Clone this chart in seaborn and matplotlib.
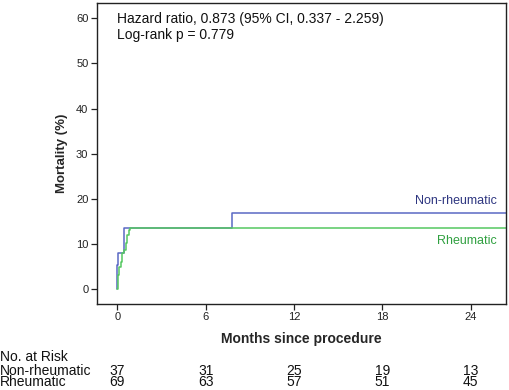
import numpy as np
import pandas as pd
import matplotlib
matplotlib.use("Agg")
import matplotlib.pyplot as plt
import matplotlib.transforms as mtransforms
import seaborn as sns

# Data
nonrheum_t = [0.0, 0.0, 0.07, 0.45, 7.77, 26.4]
nonrheum_y = [0.0, 5.4, 8.1, 13.5, 16.8, 16.8]
rheum_t = [0.0, 0.04, 0.11, 0.23, 0.34, 0.45, 0.57, 0.68, 0.79, 0.88, 26.4]
rheum_y = [0.0, 3.2, 5.0, 6.1, 8.0, 8.7, 10.2, 12.0, 13.1, 13.5, 13.5]
x_ticks = [0, 6, 12, 18, 24]
y_ticks = [0, 10, 20, 30, 40, 50, 60]
risk_nonrheum = [37, 31, 25, 19, 13]
risk_rheum = [69, 63, 57, 51, 45]
groups = ["Non-rheumatic", "Rheumatic"]
colors = {"Non-rheumatic": "#5a68c4", "Rheumatic": "#55c860"}
label_colors = {"Non-rheumatic": "#2e3680", "Rheumatic": "#30a040"}

df = pd.concat([
    pd.DataFrame({"t": nonrheum_t, "y": nonrheum_y, "group": groups[0], "order": range(len(nonrheum_t))}),
    pd.DataFrame({"t": rheum_t, "y": rheum_y, "group": groups[1], "order": range(len(rheum_t))}),
])

sns.set_style("ticks")
plt.rcParams["font.family"] = ["Liberation Sans", "DejaVu Sans"]

fig = plt.figure(figsize=(5.1, 3.9), dpi=100)
ax = fig.add_axes([0.1896, 0.2205, 0.8024, 0.7725])

for g in groups:
    sub = df[df.group == g]
    sns.lineplot(data=sub, x="t", y="y", sort=False, estimator=None, ax=ax,
                 color=colors[g], drawstyle="steps-post", linewidth=1.1, legend=False)

ax.set_xlim(-1.4, 26.39)
ax.set_ylim(-3.25, 63.4)
ax.set_xticks(x_ticks)
ax.set_yticks(y_ticks)
ax.tick_params(axis="both", direction="out", length=4, width=0.9, labelsize=8, colors="#222222", pad=2)
for s in ax.spines.values():
    s.set_visible(True)
    s.set_linewidth(1.0)
    s.set_color("#222222")

ax.set_xlabel("Months since procedure", fontsize=10, fontweight="bold", labelpad=7)
ax.set_ylabel("Mortality (%)", fontsize=9.5, fontweight="bold", labelpad=6)

ax.text(0.0, 59.7, "Hazard ratio, 0.873 (95% CI, 0.337 - 2.259)", fontsize=10, ha="left", va="center", color="#111111")
ax.text(0.0, 56.3, "Log-rank p = 0.779", fontsize=10, ha="left", va="center", color="#111111")

ax.text(25.75, 19.5, "Non-rheumatic", fontsize=9, ha="right", va="center", color=label_colors["Non-rheumatic"])
ax.text(25.75, 10.7, "Rheumatic", fontsize=9, ha="right", va="center", color=label_colors["Rheumatic"])

trans = mtransforms.blended_transform_factory(ax.transData, fig.transFigure)
fig.text(0.0, 1 - 357 / 390, "No. at Risk", fontsize=10, ha="left", va="center", color="#111111")
fig.text(0.0, 1 - 370.7 / 390, "Non-rheumatic", fontsize=10, ha="left", va="center", color="#111111")
fig.text(0.0, 1 - 381.7 / 390, "Rheumatic", fontsize=10, ha="left", va="center", color="#111111")
for xt, a, b in zip(x_ticks, risk_nonrheum, risk_rheum):
    ax.text(xt, 1 - 370.7 / 390, str(a), transform=trans, fontsize=10, ha="center", va="center", color="#111111", clip_on=False)
    ax.text(xt, 1 - 381.7 / 390, str(b), transform=trans, fontsize=10, ha="center", va="center", color="#111111", clip_on=False)

fig.savefig("out.png", dpi=100)
